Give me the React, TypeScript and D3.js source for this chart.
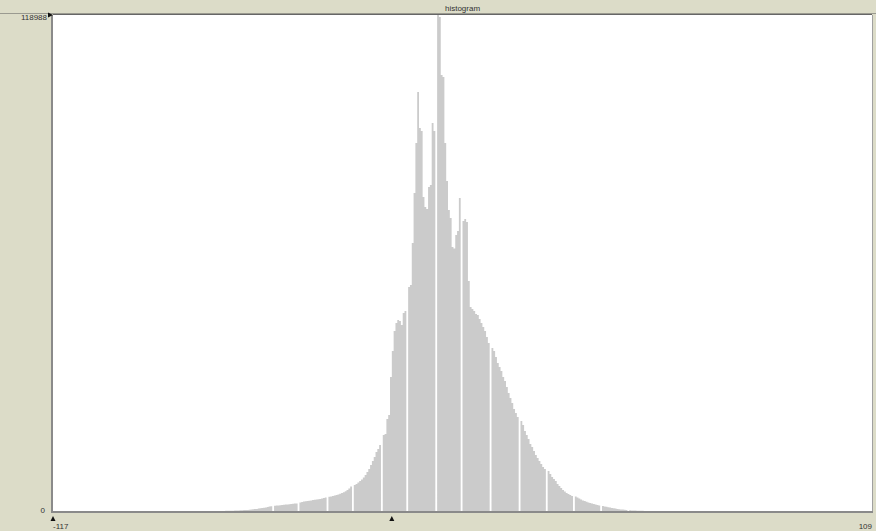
import React from "react";
import * as d3 from "d3";

// ---- data ----
const TITLE = "histogram";
const X_MIN = -117;
const X_MAX = 109;
const Y_MAX = 118988;
const BIN_START = -70;
const BIN_WIDTH = 0.5;
const MARKER_VALUE = -23.5;
const COUNTS: number[] = [
  // -70 .. tail
  24, 36, 48, 60, 72, 84, 96, 120, 144, 168, 192, 216, 240, 264, 312, 360, 408, 456, 504, 576, 648, 720, 792, 864, 960, 1056, 1152, 0,
  1247, 1295, 1343, 1391, 1439, 1487, 1535, 1583, 1631, 1679, 1727, 1775, 1823, 0,
  2063, 2159, 2255, 2327, 2399, 2471, 2543, 2615, 2687, 2759, 2831, 2903, 2999, 3119, 3263, 0,
  3407, 3503, 3599, 3718, 3838, 3982, 4150, 4318, 4510, 4750, 5038, 5398, 5878, 0,
  6237, 6477, 6837, 7197, 7557, 8037, 8636, 9356, 10076, 11035, 11995, 12955, 14154, 14874, 15833, 0,
  18232, 18472, 22071, 23030, 32147, 38384, 43182, 45101, 45821, 45581, 44621, 47500, 47980, 0,
  53738, 54217, 64293, 76288, 88283, 100518, 91882, 91162, 75329, 72930, 72450, 77728, 78207, 93081, 91162, 0,
  118988, 118511, 104596, 104100, 88283, 79167, 72210, 70291, 63334, 63000, 66212, 67172, 75089, 0,
  69571, 70051, 69300, 55177, 48940, 48460, 47980, 47260, 47020, 46061, 45101, 44142, 43182, 41743, 40303, 0,
  39104, 38384, 36945, 35505, 34546, 33586, 32147, 31187, 29748, 28308, 27109, 25909, 24470, 23510, 22551, 0,
  21591, 20631, 19192, 18232, 17273, 16073, 15354, 14394, 13434, 12715, 11995, 11275, 10556, 10076, 0,
  9596, 8876, 8157, 7677, 7197, 6477, 5998, 5518, 5038, 4678, 4318, 4078, 3838, 3599, 0,
  3479, 3239, 2999, 2759, 2519, 2399, 2231, 2063, 1919, 1799, 1679, 1559, 1439, 1343, 0,
  1200, 1104, 1008, 912, 816, 720, 648, 576, 504, 432, 384, 336, 288, 240, 0,
  192, 144, 120, 96, 72, 60, 48, 36, 24, 19,
];

const W = 876;
const H = 531;
const PLOT = { left: 53, right: 872, top: 15, bottom: 511 };
const BG = "#dcdcc8";
const BAR = "#cbcbcb";
const FONT = "'Liberation Sans', Arial, sans-serif";

export default function App() {
  const x = d3.scaleLinear().domain([X_MIN, X_MAX]).range([PLOT.left, PLOT.right]);
  const y = d3.scaleLinear().domain([0, Y_MAX]).range([PLOT.bottom, PLOT.top]);

  const pts: [number, number][] = COUNTS.map((c, i) => [BIN_START + i * BIN_WIDTH, c]);
  pts.push([BIN_START + COUNTS.length * BIN_WIDTH, 0]);
  const area = d3
    .area<[number, number]>()
    .x((d) => x(d[0]))
    .y0(y(0))
    .y1((d) => y(d[1]))
    .curve(d3.curveStepAfter);

  const tri = (cx: number, cy: number, dir: "up" | "right") =>
    dir === "up"
      ? `M${cx - 2.5},${cy + 2.5}L${cx + 2.5},${cy + 2.5}L${cx},${cy - 2.5}Z`
      : `M${cx - 2.5},${cy - 2.5}L${cx - 2.5},${cy + 2.5}L${cx + 2.5},${cy}Z`;

  return (
    <svg
      width={W}
      height={H}
      style={{ position: "absolute", left: 0, top: 0, display: "block" }}
      fontFamily={FONT}
    >
      <rect x={0} y={0} width={W} height={H} fill={BG} />
      {/* title bar */}
      <line x1={0} x2={W} y1={13.5} y2={13.5} stroke="#9a9a90" strokeWidth={1} />
      <text x={(PLOT.left + PLOT.right) / 2} y={11} textAnchor="middle" fontSize={8} fill="#333">
        {TITLE}
      </text>
      {/* plot area */}
      <rect
        x={PLOT.left}
        y={PLOT.top}
        width={PLOT.right - PLOT.left}
        height={PLOT.bottom - PLOT.top}
        fill="#ffffff"
      />
      <path d={area(pts) || ""} fill={BAR} />
      {/* borders */}
      <line x1={PLOT.left} x2={PLOT.right} y1={PLOT.top - 0.5} y2={PLOT.top - 0.5} stroke="#666" strokeWidth={1} />
      <line x1={PLOT.left - 1} x2={PLOT.left - 1} y1={PLOT.top} y2={PLOT.bottom + 2} stroke="#8a8a8a" strokeWidth={2} />
      <line x1={PLOT.left} x2={PLOT.right + 1} y1={PLOT.bottom + 1} y2={PLOT.bottom + 1} stroke="#8a8a8a" strokeWidth={2} />
      <line x1={PLOT.right + 0.5} x2={PLOT.right + 0.5} y1={PLOT.top} y2={PLOT.bottom} stroke="#a0a0a0" strokeWidth={1} />
      {/* y labels */}
      <text x={47} y={20} textAnchor="end" fontSize={8} fill="#333">
        {Y_MAX}
      </text>
      <path d={tri(50.5, y(Y_MAX), "right")} fill="#111" />
      <text x={45} y={513} textAnchor="end" fontSize={8} fill="#333">
        0
      </text>
      {/* x labels */}
      <path d={tri(x(X_MIN), 518.5, "up")} fill="#111" />
      <text x={x(X_MIN)} y={529} textAnchor="start" fontSize={8} fill="#333">
        {X_MIN}
      </text>
      <path d={tri(x(MARKER_VALUE), 518.5, "up")} fill="#111" />
      <text x={x(X_MAX)} y={529} textAnchor="end" fontSize={8} fill="#333">
        {X_MAX}
      </text>
    </svg>
  );
}
